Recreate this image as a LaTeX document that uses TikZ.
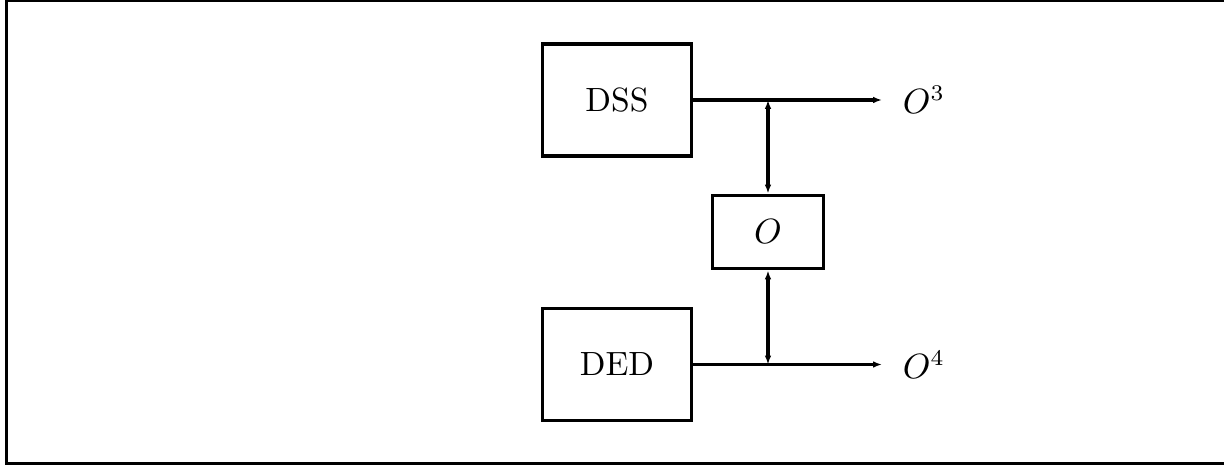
\documentclass[tikz,border=0pt]{standalone}
\usetikzlibrary{arrows.meta}
\begin{document}
\begin{tikzpicture}[x=0.3125pt,y=0.3125pt,>={Latex[length=2.8pt,width=2.1pt]},
		every node/.style={font=\fontsize{10.5}{12.6}\selectfont},
		blok/.style={draw,line width=0.95pt,inner sep=0pt,minimum width=46.6pt,minimum height=35pt},
		pijl/.style={->,line width=0.95pt}]
		\useasboundingbox (0,0) rectangle (1224,466);
		\draw[line width=0.85pt] (6.8,2.6) rectangle (1240,465.2);
		\node[blok] (dss) at (617,366) {DSS};
		\node[blok] (ded) at (617,101.5) {DED};
		\node[blok,minimum width=34.7pt,minimum height=23.1pt] (o) at (768,234) {$O$};
		\coordinate (t3) at (882,366);
		\coordinate (t4) at (882,101.5);
		\node[right,xshift=3pt] (o3) at (t3) {$O^3$};
		\node[right,xshift=3pt] (o4) at (t4) {$O^4$};
		\draw[pijl,line width=1.25pt] (dss.east) -- (t3);
		\draw[pijl] (ded.east) -- (t4);
		\draw[pijl,<->] (o.north |- dss.east) -- (o.north);
		\draw[pijl,<->] (o.south) -- (o.south |- ded.east);
\end{tikzpicture}
\end{document}
